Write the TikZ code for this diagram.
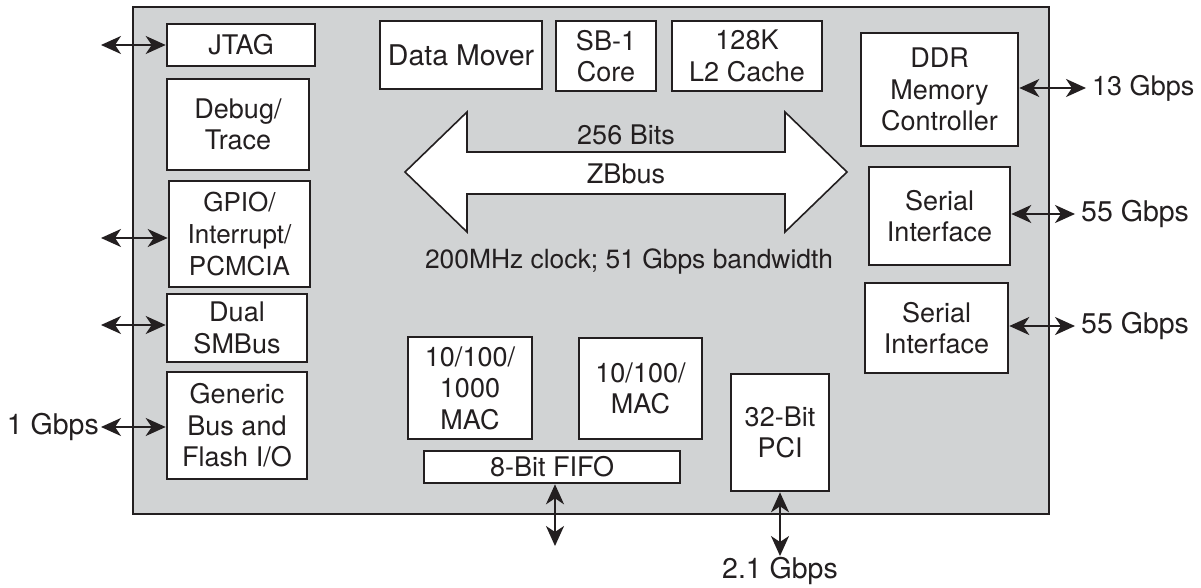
\documentclass[tikz,border=0pt]{standalone}
\usepackage{fontspec}
\setmainfont{TeX Gyre Heros}
\usetikzlibrary{arrows.meta}
\definecolor{ink}{HTML}{231F20}
\definecolor{chip}{HTML}{D1D3D4}
\begin{document}
\begin{tikzpicture}[x=1pt,y=-1pt,
  every node/.style={font=\fontsize{27}{31.5}\selectfont, text=ink},
  blk/.style={draw=ink, fill=white, line width=2.6pt, inner sep=0pt, align=center},
  bidir/.style={draw=ink, line width=2.2pt, {Stealth[length=20pt,width=18pt,inset=6pt]}-{Stealth[length=20pt,width=18pt,inset=6pt]}},
  lbl/.style={inner sep=0pt},
  ext/.style={inner sep=0pt, font=\fontsize{28.5}{31.5}\selectfont}
]
\useasboundingbox (0,0) rectangle (1201,588);
% chip outline
\draw[draw=ink, fill=chip, line width=2.6pt] (133,7) rectangle (1049,514);

% left column
\node[blk, minimum width=148pt, minimum height=42pt] (jtag) at (241,45) {JTAG};
\node[blk, minimum width=142pt, minimum height=91pt] (debug) at (238,124.5) {Debug/\\Trace};
\node[blk, minimum width=141pt, minimum height=106pt, font=\fontsize{26}{32}\selectfont] (gpio) at (239.5,234) {GPIO/\\Interrupt/\\PCMCIA};
\node[blk, minimum width=140pt, minimum height=68pt] (smbus) at (237,328) {Dual\\SMBus};
\node[blk, minimum width=140pt, minimum height=107pt] (generic) at (237,425.5) {Generic\\Bus and\\Flash I/O};

% top row
\node[blk, minimum width=162pt, minimum height=68pt, font=\fontsize{28.5}{31.5}\selectfont] (dm) at (461,55) {Data Mover};
\node[blk, minimum width=100pt, minimum height=70pt] (sb1) at (606,56) {SB-1\\Core};
\node[blk, minimum width=150pt, minimum height=70pt] (l2) at (747,56) {128K\\L2 Cache};

% right column
\node[blk, minimum width=157pt, minimum height=113pt] (ddr) at (939.5,89.5) {DDR\\Memory\\Controller};
\node[blk, minimum width=141pt, minimum height=98pt] (ser1) at (939.5,216) {Serial\\Interface};
\node[blk, minimum width=143pt, minimum height=90pt] (ser2) at (936.5,328) {Serial\\Interface};

% bottom
\node[blk, minimum width=124pt, minimum height=102pt] (mac1) at (470,388) {10/100/\\1000\\MAC};
\node[blk, minimum width=123pt, minimum height=101pt] (mac2) at (640.5,388.5) {10/100/\\MAC};
\node[blk, minimum width=256pt, minimum height=32pt] (fifo) at (552,467) {8-Bit FIFO};
\node[blk, minimum width=98pt, minimum height=117pt] (pci) at (780,432.5) {32-Bit\\PCI};

% ZBbus arrow
\draw[draw=ink, fill=white, line width=1.6pt, line join=miter]
  (405,172) -- (467,112) -- (467,152) -- (785,152) -- (785,112) -- (847,172)
  -- (785,232) -- (785,194) -- (467,194) -- (467,232) -- cycle;
\node[lbl] (bits) at (626,135) {256 Bits};
\node[lbl] (zb) at (626,174) {ZBbus};
\node[lbl, font=\fontsize{26.4}{31}\selectfont] (clk) at (629,262) {200MHz clock; 51 Gbps bandwidth};

% external endpoints
\coordinate (jtagE) at (101,45);
\coordinate (gpioE) at (101,238);
\coordinate (smbE) at (101,325);
\coordinate (genE) at (101,427);
\coordinate (ddrE) at (1086,88);
\coordinate (ser1E) at (1075,214);
\coordinate (ser2E) at (1075,326);
\coordinate (fifoE) at (555,546);
\coordinate (pciE) at (780,556);

\draw[bidir] (jtagE) -- (jtag.west);
\draw[bidir] (gpioE) -- (gpio.west |- gpioE);
\draw[bidir] (smbE) -- (smbus.west |- smbE);
\draw[bidir] (genE) -- (generic.west |- genE);
\draw[bidir] (ddr.east |- ddrE) -- (ddrE);
\draw[bidir] (ser1.east |- ser1E) -- (ser1E);
\draw[bidir] (ser2.east |- ser2E) -- (ser2E);
\draw[bidir] (fifo.south -| fifoE) -- (fifoE);
\draw[bidir] (pci.south) -- (pciE);

% external labels
\node[ext, anchor=east] (g1) at (99,427) {1 Gbps};
\node[ext, anchor=west, font=\fontsize{27}{31.5}\selectfont] (g13) at (1092,88) {13 Gbps};
\node[ext, anchor=west] (g55a) at (1081,214) {55 Gbps};
\node[ext, anchor=west] (g55b) at (1081,326) {55 Gbps};
\node[ext] (g21) at (780,571) {2.1 Gbps};
\end{tikzpicture}
\end{document}
